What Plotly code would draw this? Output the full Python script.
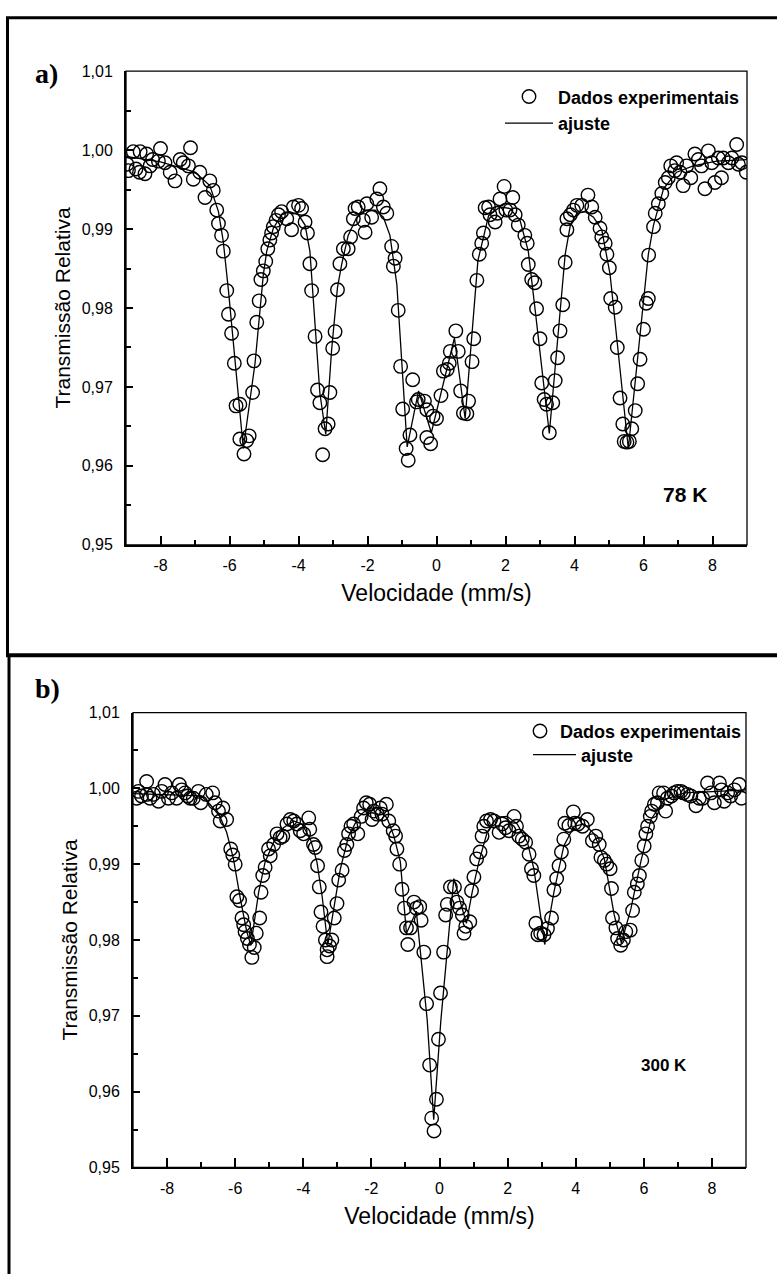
import plotly.graph_objects as go

W, H = 777, 1283

# ---------------- Panel a) 78 K ----------------
a_vel = [-8.97, -8.93, -8.79, -8.71, -8.61, -8.59, -8.45, -8.40, -8.30, -8.23, -8.06, -8.00, -7.87, -7.72,
         -7.58, -7.43, -7.34, -7.19, -7.13, -7.05, -6.86, -6.71, -6.57, -6.47, -6.37, -6.32, -6.23, -6.18,
         -6.08, -6.03, -5.94, -5.86, -5.81, -5.70, -5.70, -5.58, -5.50, -5.43, -5.33, -5.29, -5.21, -5.14,
         -5.09, -5.02, -4.95, -4.89, -4.83, -4.78, -4.73, -4.65, -4.58, -4.49, -4.34, -4.20, -4.15, -4.00,
         -3.91, -3.81, -3.74, -3.67, -3.62, -3.52, -3.45, -3.38, -3.30, -3.23, -3.14, -3.09, -3.01, -2.94,
         -2.87, -2.80, -2.70, -2.56, -2.49, -2.41, -2.36, -2.27, -2.12, -2.07, -2.02, -1.88, -1.73, -1.64,
         -1.54, -1.44, -1.30, -1.25, -1.20, -1.11, -1.04, -0.98, -0.88, -0.82, -0.77, -0.69, -0.58, -0.53,
         -0.35, -0.28, -0.28, -0.17, -0.10, 0.00, 0.13, 0.20, 0.31, 0.37, 0.40, 0.56, 0.63, 0.70, 0.78,
         0.88, 0.93, 1.03, 1.08, 1.17, 1.24, 1.31, 1.36, 1.41, 1.51, 1.55, 1.70, 1.76, 1.84, 1.96, 2.01,
         2.13, 2.21, 2.28, 2.37, 2.56, 2.63, 2.66, 2.76, 2.85, 2.90, 3.00, 3.05, 3.12, 3.19, 3.27, 3.37,
         3.44, 3.51, 3.58, 3.66, 3.73, 3.78, 3.78, 3.88, 3.97, 4.07, 4.21, 4.39, 4.50, 4.60, 4.74, 4.79,
         4.89, 4.94, 5.01, 5.05, 5.18, 5.24, 5.32, 5.40, 5.44, 5.52, 5.59, 5.66, 5.76, 5.83, 5.90, 6.00,
         6.08, 6.14, 6.15, 6.29, 6.34, 6.43, 6.53, 6.63, 6.72, 6.79, 6.91, 6.96, 7.06, 7.15, 7.25, 7.37,
         7.49, 7.59, 7.68, 7.78, 7.88, 7.98, 8.07, 8.17, 8.26, 8.31, 8.46, 8.56, 8.70, 8.75, 8.85, 8.98]
a_trans = [0.9982, 0.9974, 0.9998, 0.9976, 0.9972, 0.9998, 0.9970, 0.9995, 0.9980, 0.9988, 0.9986, 1.0002,
           0.9984, 0.9972, 0.9961, 0.9988, 0.9984, 0.9980, 1.0003, 0.9963, 0.9972, 0.9940, 0.9961, 0.9949,
           0.9924, 0.9907, 0.9892, 0.9872, 0.9822, 0.9792, 0.9768, 0.9730, 0.9676, 0.9678, 0.9634, 0.9615,
           0.9632, 0.9638, 0.9693, 0.9733, 0.9782, 0.9809, 0.9836, 0.9847, 0.9859, 0.9875, 0.9886, 0.9895,
           0.9903, 0.9911, 0.9918, 0.9922, 0.9913, 0.9899, 0.9928, 0.9930, 0.9926, 0.9909, 0.9895, 0.9856,
           0.9822, 0.9764, 0.9696, 0.9680, 0.9614, 0.9647, 0.9653, 0.9693, 0.9749, 0.9770, 0.9823, 0.9856,
           0.9875, 0.9875, 0.9890, 0.9913, 0.9926, 0.9928, 0.9911, 0.9896, 0.9932, 0.9915, 0.9938, 0.9951,
           0.9928, 0.9920, 0.9878, 0.9853, 0.9863, 0.9797, 0.9726, 0.9672, 0.9622, 0.9607, 0.9639, 0.9709,
           0.9681, 0.9684, 0.9682, 0.9636, 0.9671, 0.9628, 0.9663, 0.9660, 0.9689, 0.9720, 0.9722, 0.9730,
           0.9745, 0.9771, 0.9745, 0.9695, 0.9667, 0.9666, 0.9682, 0.9732, 0.9761, 0.9835, 0.9868, 0.9882,
           0.9895, 0.9927, 0.9928, 0.9918, 0.9909, 0.9920, 0.9938, 0.9954, 0.9924, 0.9924, 0.9940, 0.9918,
           0.9905, 0.9892, 0.9882, 0.9855, 0.9836, 0.9832, 0.9799, 0.9761, 0.9705, 0.9684, 0.9678, 0.9642,
           0.9680, 0.9708, 0.9737, 0.9771, 0.9804, 0.9858, 0.9899, 0.9913, 0.9918, 0.9924, 0.9930, 0.9930,
           0.9943, 0.9928, 0.9915, 0.9901, 0.9890, 0.9882, 0.9868, 0.9851, 0.9812, 0.9801, 0.9750, 0.9686,
           0.9653, 0.9631, 0.9630, 0.9631, 0.9647, 0.9670, 0.9704, 0.9735, 0.9773, 0.9806, 0.9812, 0.9867,
           0.9903, 0.9920, 0.9932, 0.9945, 0.9959, 0.9965, 0.9980, 0.9974, 0.9984, 0.9972, 0.9955, 0.9980,
           0.9965, 0.9995, 0.9988, 0.9980, 0.9951, 0.9999, 0.9984, 0.9959, 0.9990, 0.9965, 0.9990, 0.9984,
           0.9990, 1.0007, 0.9982, 0.9984, 0.9972]

a_fit_vel = [-9.0, -8.0, -7.0, -6.57, -6.32, -6.18, -6.03, -5.85, -5.60, -5.26, -5.02, -4.92, -4.73, -4.49,
             -4.25, -4.00, -3.81, -3.67, -3.52, -3.38, -3.21, -3.04, -2.87, -2.75, -2.56, -2.31, -2.02,
             -1.78, -1.54, -1.35, -1.15, -1.00, -0.85, -0.52, -0.15, 0.52, 0.83, 1.20, 1.51, 1.84, 2.13,
             2.42, 2.66, 2.85, 3.27, 3.73, 3.88, 4.07, 4.31, 4.55, 4.79, 5.03, 5.56, 6.14, 6.29, 6.58,
             6.96, 7.44, 8.12, 9.0]
a_fit_trans = [0.9992, 0.9985, 0.9972, 0.9955, 0.9922, 0.9884, 0.9822, 0.9740, 0.9622, 0.9730, 0.9842,
               0.9872, 0.9901, 0.9918, 0.9922, 0.9918, 0.9905, 0.9872, 0.9784, 0.9692, 0.9640, 0.9747,
               0.9826, 0.9855, 0.9892, 0.9915, 0.9924, 0.9924, 0.9915, 0.9892, 0.9830, 0.9720, 0.9624,
               0.9695, 0.9642, 0.9762, 0.9660, 0.9860, 0.9917, 0.9928, 0.9926, 0.9911, 0.9872, 0.9801,
               0.9641, 0.9868, 0.9905, 0.9920, 0.9922, 0.9915, 0.9899, 0.9843, 0.9622, 0.9868, 0.9905,
               0.9951, 0.9972, 0.9980, 0.9986, 0.9988]

# ---------------- Panel b) 300 K ----------------
b_vel = [-8.89, -8.84, -8.75, -8.60, -8.60, -8.50, -8.40, -8.25, -8.16, -8.06, -7.96, -7.86, -7.72, -7.64,
         -7.57, -7.47, -7.40, -7.32, -7.23, -7.08, -7.01, -6.85, -6.66, -6.59, -6.49, -6.44, -6.36, -6.25,
         -6.13, -6.07, -6.00, -5.95, -5.87, -5.80, -5.75, -5.71, -5.64, -5.58, -5.51, -5.44, -5.38, -5.28,
         -5.24, -5.19, -5.12, -5.02, -4.97, -4.87, -4.77, -4.68, -4.60, -4.48, -4.38, -4.28, -4.19, -4.09,
         -3.99, -3.84, -3.81, -3.70, -3.65, -3.58, -3.53, -3.48, -3.42, -3.35, -3.30, -3.30, -3.23, -3.16,
         -3.09, -3.01, -2.96, -2.86, -2.79, -2.72, -2.67, -2.60, -2.52, -2.40, -2.30, -2.23, -2.15, -2.05,
         -1.98, -1.93, -1.83, -1.74, -1.69, -1.56, -1.49, -1.36, -1.29, -1.25, -1.17, -1.10, -1.03, -0.97,
         -0.93, -0.85, -0.75, -0.68, -0.58, -0.54, -0.46, -0.38, -0.29, -0.23, -0.16, -0.09, -0.03, 0.03,
         0.12, 0.18, 0.23, 0.32, 0.44, 0.51, 0.59, 0.67, 0.72, 0.77, 0.89, 0.94, 1.01, 1.09, 1.19, 1.25,
         1.30, 1.38, 1.50, 1.60, 1.75, 1.84, 1.94, 2.04, 2.19, 2.26, 2.33, 2.43, 2.53, 2.63, 2.70, 2.77,
         2.83, 2.89, 2.97, 3.07, 3.17, 3.29, 3.36, 3.44, 3.51, 3.58, 3.65, 3.68, 3.80, 3.93, 3.97, 4.07,
         4.20, 4.34, 4.49, 4.59, 4.69, 4.74, 4.84, 4.91, 5.01, 5.05, 5.08, 5.18, 5.23, 5.32, 5.40, 5.47,
         5.60, 5.67, 5.72, 5.81, 5.87, 5.94, 6.01, 6.06, 6.11, 6.19, 6.23, 6.31, 6.40, 6.45, 6.58, 6.64,
         6.69, 6.81, 6.89, 6.99, 7.09, 7.16, 7.28, 7.38, 7.53, 7.63, 7.73, 7.87, 7.97, 8.07, 8.22, 8.28,
         8.36, 8.46, 8.55, 8.66, 8.80, 8.87]
b_trans = [0.9987, 0.9996, 0.9990, 1.0009, 0.9992, 0.9987, 0.9992, 0.9983, 0.9996, 1.0005, 0.9987, 0.9994,
           0.9987, 1.0005, 0.9998, 0.9994, 0.9990, 0.9987, 0.9987, 0.9996, 0.9981, 0.9992, 0.9994, 0.9981,
           0.9970, 0.9957, 0.9974, 0.9959, 0.9920, 0.9912, 0.9900, 0.9857, 0.9852, 0.9829, 0.9820, 0.9811,
           0.9802, 0.9794, 0.9777, 0.9790, 0.9809, 0.9829, 0.9863, 0.9885, 0.9896, 0.9920, 0.9911, 0.9926,
           0.9940, 0.9935, 0.9937, 0.9953, 0.9959, 0.9957, 0.9953, 0.9944, 0.9940, 0.9961, 0.9946, 0.9926,
           0.9922, 0.9898, 0.9870, 0.9837, 0.9818, 0.9800, 0.9787, 0.9778, 0.9792, 0.9800, 0.9829, 0.9848,
           0.9879, 0.9892, 0.9918, 0.9926, 0.9940, 0.9950, 0.9953, 0.9940, 0.9963, 0.9974, 0.9981, 0.9979,
           0.9959, 0.9970, 0.9966, 0.9974, 0.9966, 0.9979, 0.9957, 0.9944, 0.9937, 0.9920, 0.9900, 0.9867,
           0.9842, 0.9816, 0.9794, 0.9816, 0.9850, 0.9842, 0.9844, 0.9826, 0.9784, 0.9716, 0.9635, 0.9565,
           0.9548, 0.9590, 0.9669, 0.9730, 0.9784, 0.9833, 0.9847, 0.9870, 0.9870, 0.9850, 0.9842, 0.9833,
           0.9809, 0.9818, 0.9824, 0.9865, 0.9883, 0.9907, 0.9916, 0.9937, 0.9950, 0.9957, 0.9959, 0.9957,
           0.9942, 0.9953, 0.9948, 0.9944, 0.9963, 0.9950, 0.9937, 0.9933, 0.9929, 0.9913, 0.9894, 0.9885,
           0.9822, 0.9807, 0.9809, 0.9807, 0.9815, 0.9829, 0.9866, 0.9881, 0.9898, 0.9916, 0.9933, 0.9954,
           0.9951, 0.9969, 0.9954, 0.9953, 0.9950, 0.9959, 0.9931, 0.9937, 0.9926, 0.9909, 0.9905, 0.9900,
           0.9894, 0.9868, 0.9829, 0.9816, 0.9802, 0.9793, 0.9800, 0.9811, 0.9813, 0.9839, 0.9863, 0.9874,
           0.9885, 0.9905, 0.9924, 0.9940, 0.9950, 0.9963, 0.9970, 0.9979, 0.9981, 0.9994, 0.9994, 0.9970,
           0.9987, 0.9990, 0.9994, 0.9996, 0.9996, 0.9994, 0.9992, 0.9990, 0.9977, 0.9987, 0.9987, 1.0007,
           0.9994, 0.9981, 1.0007, 0.9998, 0.9983, 0.9994, 0.9990, 0.9998, 1.0005, 0.9987]

b_fit_vel = [-9.0, -7.0, -6.74, -6.45, -6.25, -6.05, -5.85, -5.66, -5.54, -5.31, -5.12, -4.87, -4.58, -4.28,
             -4.04, -3.79, -3.60, -3.45, -3.28, -3.11, -2.91, -2.67, -2.37, -2.08, -1.83, -1.54, -1.34,
             -1.15, -0.97, -0.68, -0.36, -0.17, 0.04, 0.42, 0.79, 0.96, 1.15, 1.40, 1.69, 1.99, 2.28, 2.58,
             2.77, 3.09, 3.36, 3.65, 3.95, 4.25, 4.54, 4.84, 5.13, 5.34, 5.62, 5.91, 6.21, 6.60, 7.19, 8.17,
             9.0]
b_fit_trans = [0.9993, 0.9990, 0.9979, 0.9963, 0.9942, 0.9907, 0.9855, 0.9811, 0.9793, 0.9863, 0.9903,
               0.9929, 0.9948, 0.9957, 0.9953, 0.9933, 0.9903, 0.9859, 0.9794, 0.9842, 0.9894, 0.9937,
               0.9963, 0.9974, 0.9974, 0.9961, 0.9937, 0.9903, 0.9809, 0.9838, 0.9694, 0.9563, 0.9694,
               0.9881, 0.9822, 0.9863, 0.9902, 0.9942, 0.9962, 0.9963, 0.9953, 0.9929, 0.9894, 0.9794,
               0.9863, 0.9924, 0.9950, 0.9953, 0.9940, 0.9907, 0.9833, 0.9796, 0.9841, 0.9903, 0.9959,
               0.9985, 0.9994, 0.9996, 0.9998]

x_tick_vals = [-8, -6, -4, -2, 0, 2, 4, 6, 8]
y_tick_vals = [0.95, 0.96, 0.97, 0.98, 0.99, 1.00, 1.01]

FONT = "Liberation Sans, Arial, sans-serif"
SERIF = "Liberation Serif, Times New Roman, serif"

def px_x(p):
    return p / W

def px_y(p):
    return 1 - p / H

marker_style = dict(symbol="circle-open", size=13.5, color="black", line=dict(width=1.4, color="black"))
line_style = dict(color="black", width=1.3)

fig = go.Figure()
fig.add_trace(go.Scatter(x=a_vel, y=a_trans, mode="markers", marker=marker_style,
                         name="Dados experimentais", xaxis="x", yaxis="y", legend="legend"))
fig.add_trace(go.Scatter(x=a_fit_vel, y=a_fit_trans, mode="lines", line=line_style,
                         name="ajuste", xaxis="x", yaxis="y", legend="legend2"))
fig.add_trace(go.Scatter(x=b_vel, y=b_trans, mode="markers", marker=marker_style,
                         name="Dados experimentais", xaxis="x2", yaxis="y2", legend="legend3"))
fig.add_trace(go.Scatter(x=b_fit_vel, y=b_fit_trans, mode="lines", line=line_style,
                         name="ajuste", xaxis="x2", yaxis="y2", legend="legend4"))

def xaxis_cfg(domain, anchor):
    return dict(domain=domain, anchor=anchor, range=[-9, 9], tickvals=x_tick_vals,
                ticktext=[str(v) for v in x_tick_vals],
                ticks="inside", ticklen=9, tickwidth=1.5, tickcolor="black",
                minor=dict(tickvals=[-9, -7, -5, -3, -1, 1, 3, 5, 7, 9], ticks="inside", ticklen=5,
                           tickwidth=1.5, tickcolor="black"),
                showline=True, linewidth=2, linecolor="black", mirror=False,
                showgrid=False, zeroline=False, ticklabelstandoff=5,
                tickfont=dict(family=FONT, size=16, color="black"),
                title=dict(text="Velocidade (mm/s)", font=dict(family=FONT, size=23, color="black"),
                           standoff=12))

def yaxis_cfg(domain, anchor):
    return dict(domain=domain, anchor=anchor, range=[0.95, 1.01], tickvals=y_tick_vals,
                ticktext=[f"{v:.2f}".replace(".", ",") for v in y_tick_vals],
                ticks="inside", ticklen=7, tickwidth=1.5, tickcolor="black",
                minor=dict(tickvals=[0.955, 0.965, 0.975, 0.985, 0.995, 1.005], ticks="inside",
                           ticklen=5, tickwidth=1.5, tickcolor="black"),
                showline=True, linewidth=2, linecolor="black", mirror=False,
                showgrid=False, zeroline=False, ticklabelstandoff=8,
                tickfont=dict(family=FONT, size=16, color="black"),
                title=dict(text="Transmissão Relativa", font=dict(family=FONT, size=21, color="black"),
                           standoff=5))

a_x = [px_x(126), px_x(747)]
a_y = [px_y(544), px_y(64)]
b_x = [px_x(133), px_x(746)]
b_y = [px_y(1175), px_y(714)]

legend_font = dict(family=FONT, size=18, color="black", weight="bold")
def legend_cfg(xp, yp, itemwidth):
    return dict(x=px_x(xp), y=px_y(yp), xanchor="left", yanchor="middle", xref="paper", yref="paper",
                itemwidth=itemwidth, font=legend_font, bgcolor="rgba(0,0,0,0)", borderwidth=0,
                itemclick=False, itemdoubleclick=False)

shapes = [
    dict(type="rect", xref="x domain", yref="y domain", x0=0, x1=1, y0=0, y1=1,
         line=dict(color="black", width=1.3)),
    dict(type="rect", xref="x2 domain", yref="y2 domain", x0=0, x1=1, y0=0, y1=1,
         line=dict(color="black", width=1.3)),
    # panel frames
    dict(type="line", xref="paper", yref="paper", x0=px_x(6), x1=1, y0=px_y(10), y1=px_y(10),
         line=dict(color="black", width=3)),
    dict(type="line", xref="paper", yref="paper", x0=px_x(7.5), x1=px_x(7.5), y0=px_y(9), y1=px_y(656),
         line=dict(color="black", width=3)),
    dict(type="line", xref="paper", yref="paper", x0=px_x(6), x1=1, y0=px_y(656), y1=px_y(656),
         line=dict(color="black", width=4)),
    dict(type="line", xref="paper", yref="paper", x0=px_x(9), x1=px_x(9), y0=px_y(656), y1=0,
         line=dict(color="black", width=3)),
]

annotations = [
    dict(text="<b>a)</b>", x=px_x(33), y=px_y(66), xref="paper", yref="paper", xanchor="left",
         yanchor="middle", showarrow=False, font=dict(family=SERIF, size=28, color="black")),
    dict(text="<b>b)</b>", x=px_x(33), y=px_y(690), xref="paper", yref="paper", xanchor="left",
         yanchor="middle", showarrow=False, font=dict(family=SERIF, size=28, color="black")),
    dict(text="<b>78 K</b>", x=px_x(685), y=px_y(493), xref="paper", yref="paper", xanchor="center",
         yanchor="middle", showarrow=False, font=dict(family=FONT, size=21, color="black")),
    dict(text="<b>300 K</b>", x=px_x(664), y=px_y(1072), xref="paper", yref="paper", xanchor="center",
         yanchor="middle", showarrow=False, font=dict(family=FONT, size=17, color="black")),
]

fig.update_layout(
    width=W, height=H, margin=dict(l=0, r=0, t=0, b=0),
    paper_bgcolor="white", plot_bgcolor="white",
    font=dict(family=FONT, color="black"),
    showlegend=True,
    xaxis=xaxis_cfg(a_x, "y"), yaxis=yaxis_cfg(a_y, "x"),
    xaxis2=xaxis_cfg(b_x, "y2"), yaxis2=yaxis_cfg(b_y, "x2"),
    legend=legend_cfg(500, 90, 48),
    legend2=legend_cfg(500, 117, 48),
    legend3=legend_cfg(520, 733, 30),
    legend4=legend_cfg(528, 757, 43),
    shapes=shapes, annotations=annotations,
)

fig.write_html("out.html")
